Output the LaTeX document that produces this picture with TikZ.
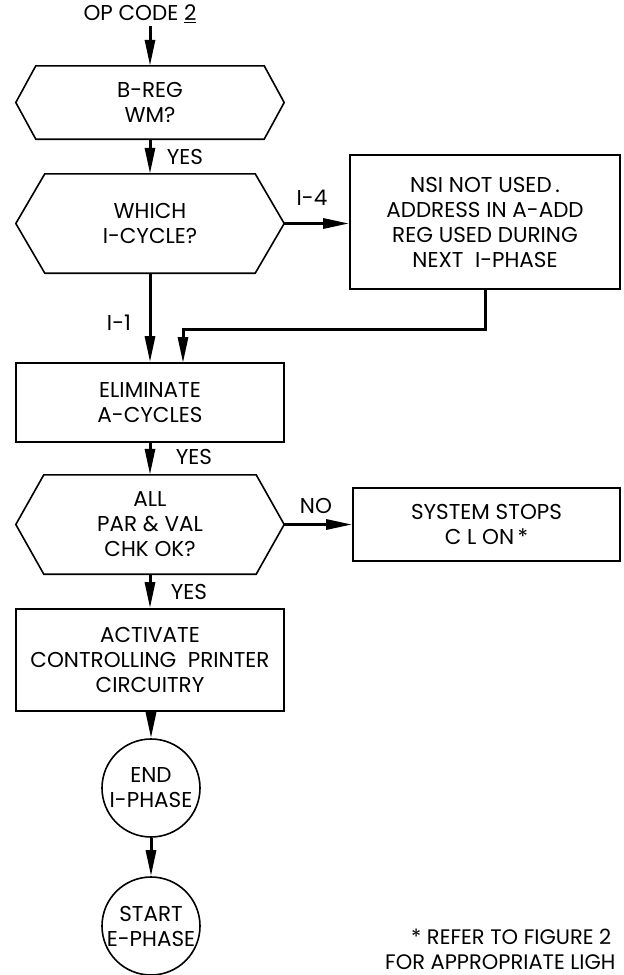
\documentclass[tikz,border=0pt]{standalone}
\usepackage{fontspec}
\setmainfont{Poppins}
\usetikzlibrary{arrows.meta}
% outline of a decision box, drawn round a named node
\newcommand{\hexframe}[2]{%
  \draw[line width=1.6pt] (#1.west) -- ([xshift=#2]#1.north west)
    -- ([xshift=-#2]#1.north east) -- (#1.east)
    -- ([xshift=-#2]#1.south east) -- ([xshift=#2]#1.south west) -- cycle;}

\begin{document}
\begin{tikzpicture}[x=1pt, y=-1pt,
  every node/.style={font=\fontsize{21.5}{25}\selectfont},
  decision/.style={minimum width=268pt, inner sep=0pt, align=center},
  process/.style={draw, line width=1.6pt, minimum width=268pt, inner sep=0pt, align=center},
  terminal/.style={draw, circle, line width=1.6pt, minimum size=98pt, inner sep=0pt, align=center},
  flow/.style={line width=3pt, -{Triangle[length=26pt,width=10pt]}},
  note/.style={anchor=west, inner sep=0pt, font=\fontsize{21}{25}\selectfont}]
  \useasboundingbox (0,0) rectangle (624,975);

  % Entry and first test
  \node (opcode) at (140,14) {OP CODE \underline{2}};
  \node[decision, minimum height=73pt] (breg) at (150,102.5) {B-REG\\WM?};
  \hexframe{breg}{20pt}
  \draw[flow] (opcode.south -| breg.north) -- (breg.north);

  \node[decision, minimum height=99pt] (icycle) at (150,223.5) {WHICH\\I-CYCLE?};
  \hexframe{icycle}{29pt}
  \draw[flow] (breg.south) -- (icycle.north);
  \node (yesa) at (185,157) {YES};

  % I-4 branch
  \node[process, minimum width=270pt, minimum height=134pt] (nsi) at (485,222)
    {NSI NOT USED\,.\\ADDRESS IN A-ADD\\REG USED DURING\\NEXT\ \ I-PHASE};
  \draw[flow] (icycle.east) -- (icycle.east -| nsi.west);
  \node (ifour) at (312,198) {I-4};
  \coordinate (merge) at (183,329);
  \draw[flow] (nsi.south) |- (merge) -- (merge |- 0,363);

  % I-1 branch
  \node[process, minimum height=79pt] (elim) at (150,402.5) {ELIMINATE\\A-CYCLES};
  \draw[flow] (icycle.south) -- (elim.north);
  \node (ione) at (119,323) {I-1};

  % Parity and validity check
  \node[decision, minimum height=99pt] (check) at (150,524.5) {ALL\\PAR \& VAL\\CHK OK?};
  \hexframe{check}{28pt}
  \draw[flow] (elim.south) -- (check.north);
  \node (yesb) at (194,457) {YES};

  \node[process, minimum width=267pt, minimum height=73pt] (stop) at (486.5,524.5)
    {SYSTEM STOPS\\C L ON\,*};
  \draw[flow] (check.east) -- (stop.west);
  \node (no) at (316,506) {NO};

  % Printer and end
  \node[process, minimum height=102pt] (act) at (150,660)
    {ACTIVATE\\CONTROLLING\ \ PRINTER\\CIRCUITRY};
  \draw[flow] (check.south) -- (act.north);
  \node (yesc) at (189,592) {YES};

  \node[terminal] (endi) at (151,788) {END\\I-PHASE};
  \draw[flow] (act.south -| endi.north) -- (endi.north);
  \node[terminal] (starte) at (151,926) {START\\E-PHASE};
  \draw[flow] (endi.south) -- (starte.north);

  % Footnote
  \node[note] (notea) at (411,937) {* REFER TO FIGURE 2};
  \node[note] (noteb) at (385,962) {FOR APPROPRIATE LIGH};
\end{tikzpicture}
\end{document}
